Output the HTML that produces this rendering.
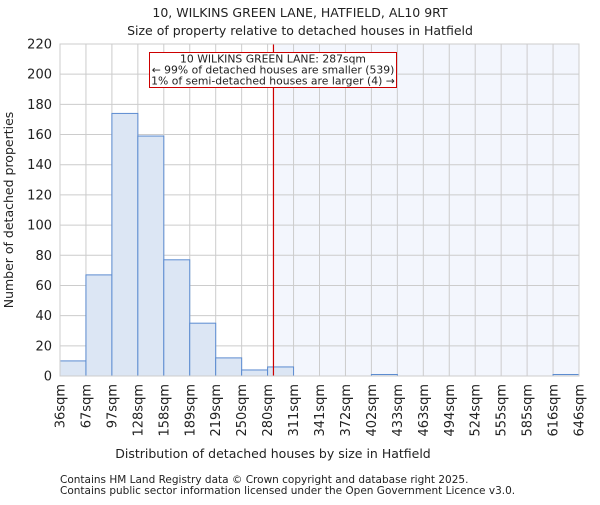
<!DOCTYPE html>
<html><head><meta charset="utf-8"><style>
body{margin:0;background:#fff;}
svg text{font-family:"DejaVu Sans","Liberation Sans",sans-serif;fill:#222;}
</style></head><body>
<svg id="chart" width="600" height="500" xmlns="http://www.w3.org/2000/svg">
<text x="300" y="17" text-anchor="middle" font-size="12.5">10, WILKINS GREEN LANE, HATFIELD, AL10 9RT</text>
<text x="300" y="35" text-anchor="middle" font-size="12.5">Size of property relative to detached houses in Hatfield</text>
<g id="plot"></g>
<text x="273" y="458" text-anchor="middle" font-size="12.5">Distribution of detached houses by size in Hatfield</text>
<text transform="translate(13,210) rotate(-90)" text-anchor="middle" font-size="12.5">Number of detached properties</text>
<text x="60" y="483" font-size="10.5">Contains HM Land Registry data © Crown copyright and database right 2025.</text>
<text x="60" y="494" font-size="10.5">Contains public sector information licensed under the Open Government Licence v3.0.</text>
</svg>
<script>
const binLabels=["36sqm","67sqm","97sqm","128sqm","158sqm","189sqm","219sqm","250sqm","280sqm","311sqm","341sqm","372sqm","402sqm","433sqm","463sqm","494sqm","524sqm","555sqm","585sqm","616sqm","646sqm"];
const binEdges=[36,67,97,128,158,189,219,250,280,311,341,372,402,433,463,494,524,555,585,616,646];
const counts=[10,67,174,159,77,35,12,4,6,0,0,0,1,0,0,0,0,0,0,1];
const yTicks=[0,20,40,60,80,100,120,140,160,180,200,220];
const propertySize=287;
const X0=60,X1=579,Y0=376,Y1=44,YMAX=220;
const NS="http://www.w3.org/2000/svg";
const g=document.getElementById('plot');
const nb=counts.length;
const bw=(X1-X0)/nb;
function xIdx(i){return X0+i*bw;}
function xVal(v){let i=0;while(i<nb-1&&v>binEdges[i+1])i++;return xIdx(i)+(v-binEdges[i])/(binEdges[i+1]-binEdges[i])*bw;}
function y(v){return Y0-(v/YMAX)*(Y0-Y1);}
function mk(t,a){const e=document.createElementNS(NS,t);for(const k in a)e.setAttribute(k,a[k]);g.appendChild(e);return e;}
const rx=xVal(propertySize);
let e=mk('rect',{x:rx,y:Y1,width:X1-rx,height:Y0-Y1,fill:'#f3f6fd'});


yTicks.forEach(t=>{
 let l=mk('line',{x1:X0,x2:X1,y1:y(t),y2:y(t),stroke:'#cccccc','stroke-width':1});
 
 
 let tx=mk('text',{x:X0-8,y:y(t)+4.5,'text-anchor':'end','font-size':13});
 tx.textContent=t;
 
 
});
binLabels.forEach((lab,i)=>{
 let l=mk('line',{x1:xIdx(i),x2:xIdx(i),y1:Y1,y2:Y0,stroke:'#cccccc','stroke-width':1});
 
 
 let tx=mk('text',{transform:`translate(${xIdx(i)+4.5},384) rotate(-90)`,'text-anchor':'end','font-size':13});
 tx.textContent=lab;
 
 
});
counts.forEach((c,i)=>{
 if(c<=0)return;
 let r=mk('rect',{x:xIdx(i),y:y(c),width:bw,height:Y0-y(c),fill:'#dce6f4',stroke:'#5b8bd0','stroke-width':1});
 
 
});
let ln=mk('line',{x1:rx,x2:rx,y1:Y1,y2:Y0,stroke:'#cc0000','stroke-width':1.2});


let fr=mk('rect',{x:X0,y:Y1,width:X1-X0,height:Y0-Y1,fill:'none',stroke:'#cccccc'});


let bx=mk('rect',{x:149.5,y:52.5,width:247,height:35,fill:'#fff',stroke:'#cc0000','stroke-width':1});


["10 WILKINS GREEN LANE: 287sqm","← 99% of detached houses are smaller (539)","1% of semi-detached houses are larger (4) →"].forEach((s,i)=>{
 let t=mk('text',{x:273,y:62.5+i*11,'text-anchor':'middle','font-size':10.8});
 t.textContent=s;
 
 
});
</script>
</body></html>
